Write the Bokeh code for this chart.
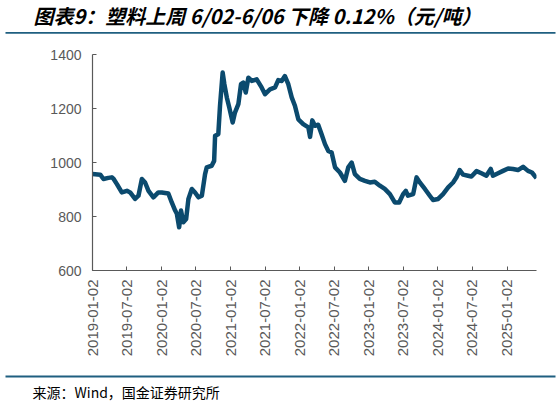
from math import pi

import pandas as pd
from bokeh.core.properties import value
from bokeh.embed import file_html
from bokeh.layouts import column
from bokeh.models import DatetimeTickFormatter, FixedTicker, Range1d
from bokeh.plotting import figure
from bokeh.resources import INLINE

title_text = "图表9：塑料上周 6/02-6/06 下降 0.12%（元/吨）"
source_text = "来源：Wind，国金证券研究所"

dates = [
    "2019-01-02", "2019-02-12", "2019-03-01", "2019-03-27", "2019-04-14",
    "2019-04-23", "2019-05-11", "2019-06-06", "2019-07-03", "2019-07-20",
    "2019-08-15", "2019-09-02", "2019-09-20", "2019-10-07", "2019-10-25",
    "2019-11-20", "2019-12-16", "2020-01-03", "2020-02-07", "2020-02-25",
    "2020-03-14", "2020-03-23", "2020-04-04", "2020-04-14", "2020-04-26",
    "2020-05-11", "2020-05-23", "2020-06-10", "2020-06-27", "2020-07-15",
    "2020-08-02", "2020-08-19", "2020-08-28", "2020-09-23", "2020-10-06",
    "2020-10-11", "2020-10-28", "2020-11-06", "2020-11-20", "2020-11-29",
    "2020-12-12", "2020-12-25", "2021-01-12", "2021-01-24", "2021-02-11",
    "2021-02-25", "2021-03-09", "2021-03-22", "2021-04-05", "2021-04-23",
    "2021-05-19", "2021-06-14", "2021-07-02", "2021-07-28", "2021-08-24",
    "2021-09-10", "2021-09-28", "2021-10-15", "2021-11-02", "2021-11-20",
    "2021-12-07", "2021-12-25", "2022-01-20", "2022-02-16", "2022-02-25",
    "2022-03-09", "2022-03-23", "2022-04-09", "2022-04-27", "2022-05-15",
    "2022-06-01", "2022-06-19", "2022-07-07", "2022-08-02", "2022-08-28",
    "2022-09-15", "2022-10-03", "2022-10-20", "2022-11-15", "2022-12-12",
    "2023-01-07", "2023-02-02", "2023-03-01", "2023-03-27", "2023-04-23",
    "2023-05-19", "2023-06-11", "2023-07-02", "2023-07-16", "2023-07-28",
    "2023-08-24", "2023-09-11", "2023-09-28", "2023-10-25", "2023-11-20",
    "2023-12-07", "2024-01-03", "2024-01-29", "2024-02-25", "2024-03-22",
    "2024-04-09", "2024-04-26", "2024-05-14", "2024-06-09", "2024-06-27",
    "2024-07-24", "2024-08-19", "2024-09-14", "2024-10-07", "2024-10-19",
    "2024-11-15", "2024-12-11", "2025-01-07", "2025-02-02", "2025-02-28",
    "2025-03-27", "2025-04-22", "2025-05-13", "2025-06-06",
]
price = [
    957, 955, 939, 943, 945, 940, 920, 889, 895, 889,
    865, 877, 939, 926, 895, 871, 889, 889, 885, 852,
    822, 810, 760, 822, 779, 791, 865, 902, 889, 871,
    877, 957, 982, 988, 1006, 1099, 1105, 1210, 1333, 1290,
    1241, 1204, 1148, 1185, 1216, 1290, 1296, 1259, 1314, 1302,
    1308, 1278, 1253, 1271, 1278, 1305, 1302, 1320, 1290, 1241,
    1210, 1160, 1142, 1130, 1095, 1156, 1136, 1140, 1105, 1068,
    1043, 1037, 982, 963, 932, 982, 1000, 957, 939, 932,
    926, 929, 914, 902, 883, 852, 852, 883, 895, 877,
    883, 945, 926, 902, 877, 861, 865, 883, 908, 926,
    945, 972, 955, 951, 948, 968, 960, 951, 976, 951,
    960, 969, 978, 976, 972, 984, 969, 963, 942,
]
tick_dates = [
    "2019-01-02", "2019-07-02", "2020-01-02", "2020-07-02", "2021-01-02",
    "2021-07-02", "2022-01-02", "2022-07-02", "2023-01-02", "2023-07-02",
    "2024-01-02", "2024-07-02", "2025-01-02",
]
y_ticks = [600, 800, 1000, 1200, 1400]

x = pd.to_datetime(dates)
ticks_ms = [pd.Timestamp(d).value // 10**6 for d in tick_dates]

W = 559
line_color = "#0b4a6e"
rule_color = "#1f5f80"
grey = "#595959"
cjk = value("Noto Sans CJK SC")


def strip(height):
    # blank figure whose frame is the whole strip, y counted from the top
    f = figure(width=W, height=height, output_backend="svg",
               toolbar_location=None, x_axis_location=None,
               y_axis_location=None, min_border=0, frame_align=False)
    f.x_range = Range1d(0, W)
    f.y_range = Range1d(height, 0)
    f.outline_line_color = None
    f.grid.visible = False
    return f


# title strip
top = strip(44)
top.text(x=[33], y=[15], text=[title_text], text_font=cjk,
         text_font_size="20px", text_font_style="bold italic",
         text_color="#000000", text_baseline="middle")
top.segment(x0=[5], x1=[555], y0=[32.4], y1=[32.4],
            line_color=rule_color, line_width=1.8)

# main chart
p = figure(
    width=W, height=326,
    x_axis_type="datetime",
    output_backend="svg", toolbar_location=None,
    min_border_left=92, min_border_right=23,
    min_border_top=10, min_border_bottom=100,
    frame_align=False,
)
p.x_range = Range1d(x[0], x[-1])
p.y_range = Range1d(600, 1400)
p.outline_line_color = None
p.grid.visible = False

p.line(x, price, line_color=line_color, line_width=4.5, line_join="round")

for ax in (p.xaxis[0], p.yaxis[0]):
    ax.axis_line_color = grey
    ax.axis_line_width = 1.2
    ax.major_tick_line_color = grey
    ax.major_tick_in = 4
    ax.major_tick_out = 0
    ax.minor_tick_line_color = None
    ax.major_label_text_color = grey
    ax.major_label_text_font = "Liberation Sans"
    ax.major_label_text_font_size = "14px"

p.xaxis.ticker = FixedTicker(ticks=ticks_ms)
fmt = "%Y-%m-%d"
p.xaxis.formatter = DatetimeTickFormatter(
    days=fmt, months=fmt, years=fmt, hours=fmt, minutes=fmt
)
p.xaxis.major_label_orientation = pi / 2
p.xaxis.major_label_standoff = 9
p.xaxis.major_label_text_font_size = "15px"

p.yaxis.ticker = FixedTicker(ticks=y_ticks)
p.yaxis.major_label_standoff = 11

# source strip
bottom = strip(34)
bottom.segment(x0=[5], x1=[555], y0=[6], y1=[6],
               line_color=rule_color, line_width=1.8)
bottom.text(x=[32], y=[21], text=[source_text], text_font=cjk,
            text_font_size="14px", text_color="#000000",
            text_baseline="middle")

layout = column(top, p, bottom, spacing=0)
open("out.html", "w").write(file_html(layout, INLINE))
